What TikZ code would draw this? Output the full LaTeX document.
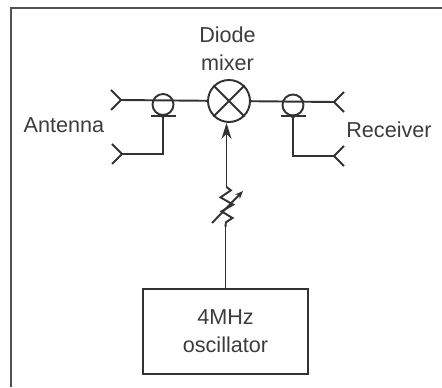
\documentclass[tikz,border=0pt]{standalone}
\usepackage{fontspec}
\setmainfont{Liberation Sans}
\usepackage{tikz}
\usetikzlibrary{arrows.meta}
\definecolor{inkcolor}{RGB}{50,50,50}
\definecolor{textcolor}{RGB}{60,60,60}
\tikzstyle{wire} = [draw=inkcolor, line width=1.1pt]
\tikzstyle{framed} = [draw=inkcolor!85, line width=1.6pt]
\tikzstyle{arrow} = [wire,-{Stealth[length=0.32cm,width=0.2cm]}]
\tikzstyle{tunearrow} = [wire,-{Stealth[length=0.16cm,width=0.13cm]}]
\tikzstyle{mixersym} = [circle, wire, minimum size=0.84cm, inner sep=0pt]
\tikzstyle{couplersym} = [circle, wire, minimum size=0.42cm, inner sep=0pt]
\tikzstyle{oscbox} = [rectangle, wire, minimum width=3.3cm, minimum height=1.7cm, text=textcolor, align=center, font=\fontsize{12.3}{15.9}\selectfont]
\tikzstyle{caption} = [text=textcolor, align=center, font=\fontsize{12.3}{15.9}\selectfont]
\newcommand{\hornfork}[1]{\draw [wire] (#1) ++(-0.2,0.2) -- (#1) -- ++(-0.2,-0.2);}
\newcommand{\hornforkr}[1]{\draw [wire] (#1) ++(0.2,0.2) -- (#1) -- ++(0.2,-0.2);}
\newcommand{\couplerfoot}[1]{\draw [wire] (#1.south) ++(-0.25,0) -- ++(0.5,0); \fill [inkcolor] (#1.south) circle (0.04);}

\begin{document}
\begin{tikzpicture}[node distance=1cm]

\useasboundingbox (-4.58,2.02) rectangle (4.26,-5.72);

\node (mixer) [mixersym] {};
\draw [wire] (mixer.45) -- (mixer.225);
\draw [wire] (mixer.135) -- (mixer.315);

\node (diode) [caption, above of=mixer, xshift=-0.03cm, yshift=0.04cm] {Diode\\mixer};
\node (antenna) [caption, left of=mixer, xshift=-2.3cm, yshift=-0.48cm] {Antenna};
\node (receiver) [caption, right of=mixer, xshift=2.2cm, yshift=-0.58cm] {Receiver};

\node (couplerL) [couplersym, left of=mixer, xshift=-0.32cm, yshift=-0.07cm] {};
\node (couplerR) [couplersym, right of=mixer, xshift=0.28cm, yshift=-0.08cm] {};

\node (osc) [oscbox, below of=mixer, xshift=-0.07cm, yshift=-3.61cm] {4MHz\\oscillator};

% horn ends and the attenuator
\coordinate (hornLa) at (-2.16,0.02);
\coordinate (hornLb) at (-2.14,-1.06);
\coordinate (hornRa) at (2.10,-0.02);
\coordinate (hornRb) at (2.10,-1.10);
\coordinate (attTop) at (-0.05,-1.72);
\coordinate (attBot) at (-0.07,-2.52);
\coordinate (tuneTail) at (-0.34,-2.44);
\coordinate (tuneTip) at (0.28,-1.80);

\draw (attTop) [wire] -- ++(0.087,-0.067) -- ++(-0.207,-0.14) -- ++(0.253,-0.146) -- ++(-0.233,-0.134) -- ++(0.22,-0.133) -- ++(-0.133,-0.087) -- (attBot);

\hornfork{hornLa}
\hornfork{hornLb}
\hornforkr{hornRa}
\hornforkr{hornRb}

\couplerfoot{couplerL}
\couplerfoot{couplerR}

\draw [wire] (hornLa) -- (mixer);
\draw [wire] (mixer) -- (hornRa);
\draw [wire] (couplerL.south) |- (hornLb);
\draw [wire] (couplerR.south) |- (hornRb);
\draw [arrow] (attTop) -- (attTop |- mixer.south);
\draw [wire] (osc.north) -- (attBot);
\draw [tunearrow] (tuneTail) -- (tuneTip);

\coordinate (frameBL) at (-4.36,-5.72);
\coordinate (frameTL) at (-4.36,1.86);
\coordinate (frameTR) at (4.26,1.86);
\draw [framed] (frameBL) -- (frameTL) -- (frameTR);

\end{tikzpicture}
\end{document}
